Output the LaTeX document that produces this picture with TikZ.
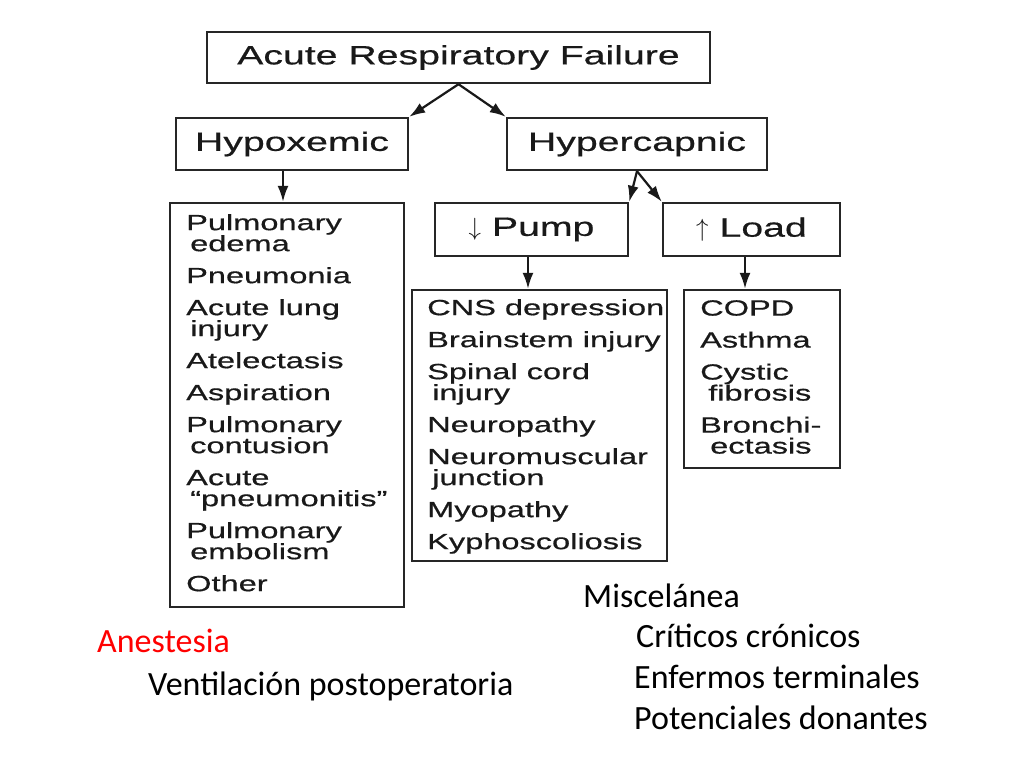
\documentclass[tikz,border=0pt]{standalone}
\usepackage{fontspec}
\usetikzlibrary{arrows.meta}
\newfontfamily\boxfont[FakeStretch=1.48,FakeBold=0.6]{Liberation Sans}
\newfontfamily\slidefont{Carlito}
\tikzset{
  headbox/.style={draw=black!85, line width=2.4pt, inner sep=0pt, text=black!90,
    font=\boxfont\fontsize{26.5}{28}\selectfont},
  listbox/.style={draw=black!85, line width=2.4pt, inner sep=0pt},
  listtext/.style={anchor=north west, inner sep=0pt, align=left, text=black!90,
    font=\boxfont\fontsize{22}{21}\selectfont},
  arr/.style={line width=2.2pt, black!90, -{Latex[length=16pt,width=11pt]}},
  slidetext/.style={anchor=base west, inner sep=0pt, font=\slidefont\fontsize{34}{40}\selectfont}
}
\begin{document}
\begin{tikzpicture}[x=1pt, y=-1pt]
  \useasboundingbox (0,0) rectangle (1024,768);
  % heading boxes
  \node[headbox, minimum width=503pt, minimum height=51pt] (arf) at (458.5,57.5) {Acute Respiratory Failure};
  \node[headbox, minimum width=232pt, minimum height=52pt] (hypox) at (292,144) {Hypoxemic};
  \node[headbox, minimum width=260pt, minimum height=52pt] (hyperc) at (637,144) {Hypercapnic};
  \node[headbox, minimum width=193pt, minimum height=53pt] (pump) at (531.5,229.5) {$\downarrow$ Pump};
  \node[headbox, minimum width=177pt, minimum height=53pt] (load) at (751.5,229.5) {$\uparrow$ Load};
  % list boxes
  \node[listbox, minimum width=234pt, minimum height=404pt] (hypoxlist) at (287,405) {};
  \node[listbox, minimum width=255pt, minimum height=271pt] (pumplist) at (539.5,425.5) {};
  \node[listbox, minimum width=156pt, minimum height=178pt] (loadlist) at (762,379) {};
  \node[listtext] (hypoxtext) at (186,214) {Pulmonary\\\hspace*{4pt}edema\\[11pt]
    Pneumonia\\[11pt]
    Acute lung\\\hspace*{4pt}injury\\[11pt]
    Atelectasis\\[11pt]
    Aspiration\\[11pt]
    Pulmonary\\\hspace*{4pt}contusion\\[11pt]
    Acute\\\hspace*{4pt}“pneumonitis”\\[11pt]
    Pulmonary\\\hspace*{4pt}embolism\\[11pt]
    Other};
  \node[listtext] (pumptext) at (427,299) {CNS depression\\[11pt]
    Brainstem injury\\[11pt]
    Spinal cord\\\hspace*{5pt}injury\\[11pt]
    Neuropathy\\[11pt]
    Neuromuscular\\\hspace*{5pt}junction\\[11pt]
    Myopathy\\[11pt]
    Kyphoscoliosis};
  \node[listtext] (loadtext) at (700,300) {COPD\\[11pt]
    Asthma\\[11pt]
    Cystic\\\hspace*{8pt}fibrosis\\[11pt]
    Bronchi-\\\hspace*{10pt}ectasis};
  % arrows
  \draw[arr] (arf.south) -- (hypox.north east);
  \draw[arr] (arf.south) -- (hyperc.north west);
  \draw[arr] (hyperc.south) -- (pump.north east);
  \draw[arr] (hyperc.south) -- (load.north west);
  \draw[arr] ([xshift=-9pt]hypox.south) -- ([xshift=-4pt]hypoxlist.north);
  \draw[arr] ([xshift=-3.5pt]pump.south) -- ([xshift=-11.5pt]pumplist.north);
  \draw[arr] ([xshift=-6.5pt]load.south) -- ([xshift=-17pt]loadlist.north);
  % slide text
  \node[slidetext, text=red] (anest) at (97,652) {Anestesia};
  \node[slidetext] (ventil) at (148,695) {Ventilación postoperatoria};
  \node[slidetext] (misc) at (583,607) {Miscelánea};
  \node[slidetext] (crit) at (636,647) {Críticos crónicos};
  \node[slidetext] (term) at (634,688) {Enfermos terminales};
  \node[slidetext] (donor) at (634,729) {Potenciales donantes};
\end{tikzpicture}
\end{document}
